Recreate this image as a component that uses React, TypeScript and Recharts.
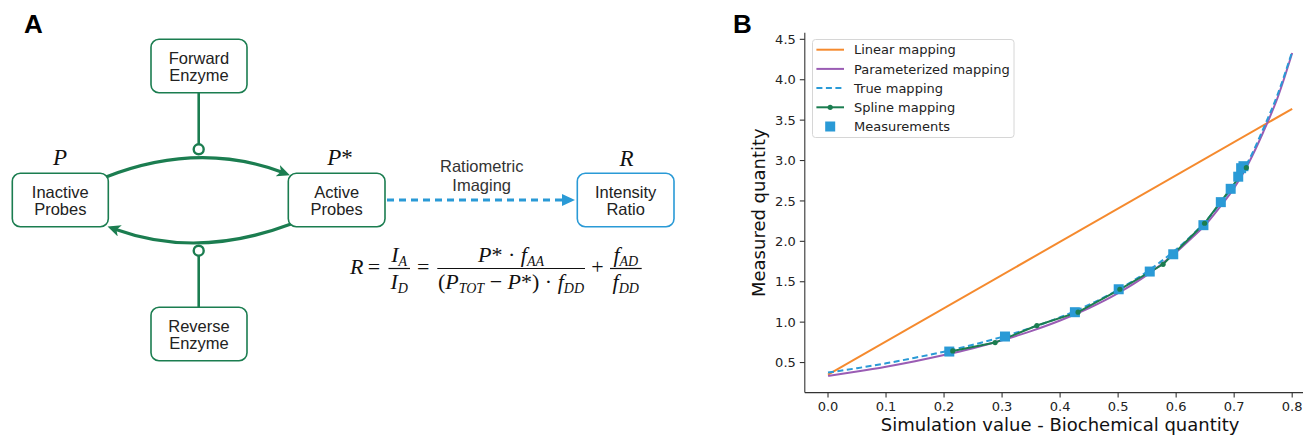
import React from "react"
import { ComposedChart, Line, Scatter, XAxis, YAxis, Legend } from "recharts"

// ---- data (panel B) ----
const xTicks = [0, 0.1, 0.2, 0.3, 0.4, 0.5, 0.6, 0.7, 0.8]
const yTicks = [0.5, 1.0, 1.5, 2.0, 2.5, 3.0, 3.5, 4.0, 4.5]

const linearX = [0, 0.8]
const linearY = [0.35, 3.64]

const curveX = [0, 0.05, 0.1, 0.15, 0.2, 0.25, 0.3, 0.35, 0.4, 0.45, 0.5, 0.55, 0.6, 0.625, 0.65, 0.675, 0.7, 0.725, 0.75, 0.775, 0.8]
const paramY = [0.335, 0.389, 0.449, 0.517, 0.593, 0.678, 0.776, 0.889, 1.02, 1.175, 1.36, 1.585, 1.865, 2.03, 2.2, 2.42, 2.66, 2.97, 3.35, 3.78, 4.33]
const trueY = [0.376, 0.43, 0.49, 0.56, 0.634, 0.72, 0.817, 0.93, 1.06, 1.215, 1.4, 1.625, 1.9, 2.06, 2.24, 2.46, 2.7, 3.0, 3.39, 3.82, 4.35]

const splineX = [0.215, 0.288, 0.36, 0.431, 0.503, 0.5775, 0.649, 0.721]
const splineY = [0.644, 0.747, 0.958, 1.123, 1.407, 1.716, 2.224, 2.912]

const measX = [0.209, 0.305, 0.4255, 0.501, 0.5545, 0.595, 0.647, 0.677, 0.694, 0.707, 0.712, 0.716]
const measY = [0.636, 0.822, 1.123, 1.407, 1.626, 1.84, 2.2, 2.485, 2.65, 2.8, 2.905, 2.93]

const legendItems = ["Linear mapping", "Parameterized mapping", "True mapping", "Spline mapping", "Measurements"]

const ORANGE = "#f58a2e"
const PURPLE = "#9a5cb4"
const BLUE = "#2a9ad6"
const GREEN = "#1b7d50"
const AXIS = "#333"

const pts = (xs: number[], ys: number[]) => xs.map((x, i) => ({ x, y: ys[i] }))

const SANS = "'Liberation Sans', Arial, sans-serif"
const SERIF = "'Liberation Serif', 'Times New Roman', serif"
const DJV = "'DejaVu Sans', sans-serif"

function Box({ x, y, w, h, color, lines }: { x: number; y: number; w: number; h: number; color: string; lines: string[] }) {
  const cx = x + w / 2
  const cy = y + h / 2
  return (
    <g>
      <rect x={x} y={y} width={w} height={h} rx={8} fill="white" stroke={color} strokeWidth={1.6} />
      <text x={cx} y={cy - 2.5} textAnchor="middle" fontSize={16.5} fontFamily={SANS} fill="#222">{lines[0]}</text>
      <text x={cx} y={cy + 14.8} textAnchor="middle" fontSize={16.5} fontFamily={SANS} fill="#222">{lines[1]}</text>
    </g>
  )
}

function PanelA() {
  const sub = { fontSize: 14 }
  return (
    <svg width={760} height={436} style={{ position: "absolute", left: 0, top: 0 }}>
      <defs>
        <marker id="gHead" markerUnits="userSpaceOnUse" markerWidth={14} markerHeight={12} refX={4} refY={6} orient="auto">
          <path d="M0,0 L13,6 L0,12 L3.5,6 z" fill={GREEN} />
        </marker>
        <marker id="bHead" markerUnits="userSpaceOnUse" markerWidth={14} markerHeight={12} refX={2} refY={6} orient="auto">
          <path d="M0,0 L13,6 L0,12 z" fill={BLUE} />
        </marker>
      </defs>
      <text x={24} y={33} fontSize={26} fontWeight="bold" fontFamily={SANS} fill="#000">A</text>
      <text x={733} y={33} fontSize={26} fontWeight="bold" fontFamily={SANS} fill="#000">B</text>

      {/* enzyme connectors */}
      <line x1={198.7} y1={93} x2={198.7} y2={144} stroke={GREEN} strokeWidth={2.6} />
      <circle cx={198.7} cy={149.3} r={5} fill="white" stroke={GREEN} strokeWidth={2.4} />
      <line x1={198.7} y1={256} x2={198.7} y2={307} stroke={GREEN} strokeWidth={2.6} />
      <circle cx={198.7} cy={250.7} r={5} fill="white" stroke={GREEN} strokeWidth={2.4} />

      {/* conversion arcs */}
      <path d="M106,177 Q198,141 281.5,172" fill="none" stroke={GREEN} strokeWidth={3.2} markerEnd="url(#gHead)" />
      <path d="M291,224 Q198,259 116,229.5" fill="none" stroke={GREEN} strokeWidth={3.2} markerEnd="url(#gHead)" />

      {/* ratiometric imaging */}
      <line x1={387} y1={200} x2={564} y2={200} stroke={BLUE} strokeWidth={3} strokeDasharray="7 5" markerEnd="url(#bHead)" />
      <text x={481.7} y={172.3} textAnchor="middle" fontSize={16.5} fontFamily={SANS} fill="#333">Ratiometric</text>
      <text x={481.7} y={190.7} textAnchor="middle" fontSize={16.5} fontFamily={SANS} fill="#333">Imaging</text>

      <Box x={151} y={39.3} w={96} h={53.4} color={GREEN} lines={["Forward", "Enzyme"]} />
      <Box x={12.3} y={173.3} w={96} h={53.4} color={GREEN} lines={["Inactive", "Probes"]} />
      <Box x={288.3} y={173.3} w={96.7} h={53.4} color={GREEN} lines={["Active", "Probes"]} />
      <Box x={151} y={307.3} w={96} h={53.4} color={GREEN} lines={["Reverse", "Enzyme"]} />
      <Box x={577.3} y={173.3} w={96.7} h={53.4} color={BLUE} lines={["Intensity", "Ratio"]} />

      {/* state labels */}
      <g fontFamily={SERIF} fontSize={23} fill="#111">
        <text x={60} y={165} textAnchor="middle" fontStyle="italic">P</text>
        <text x={340} y={165} textAnchor="middle"><tspan fontStyle="italic">P</tspan>*</text>
        <text x={626.5} y={166} textAnchor="middle" fontStyle="italic">R</text>
      </g>

      {/* equation */}
      <g fontFamily={SERIF} fontSize={22} fill="#111" fontStyle="italic">
        <text x={350} y={274}>R</text>
        <text x={374} y={274} textAnchor="middle" fontStyle="normal">=</text>
        <line x1={388.5} y1={268.5} x2={410} y2={268.5} stroke="#111" strokeWidth={1.2} />
        <text x={399.2} y={261.5} textAnchor="middle">I<tspan {...sub} dy={4}>A</tspan></text>
        <text x={399.2} y={289} textAnchor="middle">I<tspan {...sub} dy={4}>D</tspan></text>
        <text x={423.3} y={274} textAnchor="middle" fontStyle="normal">=</text>
        <line x1={437.3} y1={268.5} x2={585} y2={268.5} stroke="#111" strokeWidth={1.2} />
        <text x={511} y={261.5} textAnchor="middle">
          P<tspan fontStyle="normal">* · </tspan>f<tspan {...sub} dy={4}>AA</tspan>
        </text>
        <text x={511} y={289} textAnchor="middle">
          <tspan fontStyle="normal">(</tspan>P<tspan {...sub} dy={4}>TOT</tspan>
          <tspan dy={-4} fontStyle="normal"> − </tspan>P<tspan fontStyle="normal">*) · </tspan>f<tspan {...sub} dy={4}>DD</tspan>
        </text>
        <text x={597.5} y={274} textAnchor="middle" fontStyle="normal">+</text>
        <line x1={610} y1={268.5} x2={641.7} y2={268.5} stroke="#111" strokeWidth={1.2} />
        <text x={625.8} y={261.5} textAnchor="middle">f<tspan {...sub} dy={4}>AD</tspan></text>
        <text x={625.8} y={289} textAnchor="middle">f<tspan {...sub} dy={4}>DD</tspan></text>
      </g>
    </svg>
  )
}

function LegendBox() {
  const rowY = [10.7, 29.9, 49.1, 68.3, 87.5]
  return (
    <svg width={203} height={100} style={{ display: "block" }}>
      <rect x={0.5} y={0.5} width={201.5} height={98} rx={3} fill="rgba(255,255,255,0.8)" stroke="#d6d6d6" />
      <line x1={4.4} x2={32} y1={rowY[0]} y2={rowY[0]} stroke={ORANGE} strokeWidth={2} />
      <line x1={4.4} x2={32} y1={rowY[1]} y2={rowY[1]} stroke={PURPLE} strokeWidth={2} />
      <line x1={4.4} x2={32} y1={rowY[2]} y2={rowY[2]} stroke={BLUE} strokeWidth={2} strokeDasharray="6 3.5" />
      <line x1={4.4} x2={32} y1={rowY[3]} y2={rowY[3]} stroke={GREEN} strokeWidth={2} />
      <circle cx={18.2} cy={rowY[3]} r={2.6} fill={GREEN} />
      <rect x={13.2} y={rowY[4] - 5} width={10} height={10} fill={BLUE} />
      {legendItems.map((t, i) => (
        <text key={t} x={42} y={rowY[i] + 4.6} fontSize={13} fontFamily={DJV} fill="#222">{t}</text>
      ))}
    </svg>
  )
}

const Square = (props: any) => {
  const { cx, cy } = props
  return <rect x={cx - 5} y={cy - 5} width={10} height={10} fill={BLUE} />
}

function PanelB() {
  const xDomain = [-0.04, 0.84]
  const yDomain = [0.128, 4.582]
  const tick = { fontSize: 13, fill: "#222", fontFamily: DJV }
  return (
    <div style={{ position: "absolute", left: 700, top: 0 }}>
      <ComposedChart width={640} height={436} margin={{ top: 32.7, right: 24.6, bottom: 0, left: 44.8 }}>
        <XAxis
          dataKey="x"
          type="number"
          domain={xDomain}
          ticks={xTicks}
          allowDataOverflow
          tickFormatter={(v: number) => v.toFixed(1)}
          tick={tick}
          tickSize={5}
          tickMargin={4}
          height={43.4}
          axisLine={{ stroke: AXIS, strokeWidth: 1.1 }}
          tickLine={{ stroke: AXIS, strokeWidth: 1.1 }}
          label={{
            content: () => (
              <text x={360.1} y={431} textAnchor="middle" fontSize={18} fontFamily={DJV} fill="#111">
                Simulation value - Biochemical quantity
              </text>
            ),
          }}
        />
        <XAxis
          xAxisId="top"
          orientation="top"
          dataKey="x"
          type="number"
          domain={xDomain}
          allowDataOverflow
          tick={false}
          tickLine={false}
          height={0}
          axisLine={{ stroke: AXIS, strokeWidth: 1.1 }}
        />
        <YAxis
          dataKey="y"
          type="number"
          domain={yDomain}
          ticks={yTicks}
          allowDataOverflow
          tickFormatter={(v: number) => v.toFixed(1)}
          tick={tick}
          tickSize={5}
          tickMargin={4}
          width={60}
          axisLine={{ stroke: AXIS, strokeWidth: 1.1 }}
          tickLine={{ stroke: AXIS, strokeWidth: 1.1 }}
          label={{
            content: () => (
              <text x={65.5} y={212.7} transform="rotate(-90 65.5 212.7)" textAnchor="middle" fontSize={18} fontFamily={DJV} fill="#111">
                Measured quantity
              </text>
            ),
          }}
        />
        <Line data={pts(linearX, linearY)} dataKey="y" type="linear" stroke={ORANGE} strokeWidth={2} dot={false} isAnimationActive={false} />
        <Line data={pts(curveX, paramY)} dataKey="y" type="monotone" stroke={PURPLE} strokeWidth={2} dot={false} isAnimationActive={false} />
        <Scatter data={pts(measX, measY)} dataKey="y" shape={Square} isAnimationActive={false} />
        <Line data={pts(curveX, trueY)} dataKey="y" type="monotone" stroke={BLUE} strokeWidth={2} strokeDasharray="6 3.5" dot={false} isAnimationActive={false} />
        <Line
          data={pts(splineX, splineY)}
          dataKey="y"
          type="linear"
          stroke={GREEN}
          strokeWidth={2}
          dot={{ r: 2.6, fill: GREEN, stroke: GREEN, strokeWidth: 0 }}
          isAnimationActive={false}
        />
        <Legend
          layout="vertical"
          align="center"
          verticalAlign="middle"
          wrapperStyle={{ left: 112.3, top: 39, width: 203, height: 100 }}
          content={() => <LegendBox />}
        />
      </ComposedChart>
    </div>
  )
}

export default function App() {
  return (
    <div style={{ position: "absolute", left: 0, top: 0, width: 1303, height: 436, overflow: "hidden", background: "white" }}>
      <PanelA />
      <PanelB />
    </div>
  )
}
